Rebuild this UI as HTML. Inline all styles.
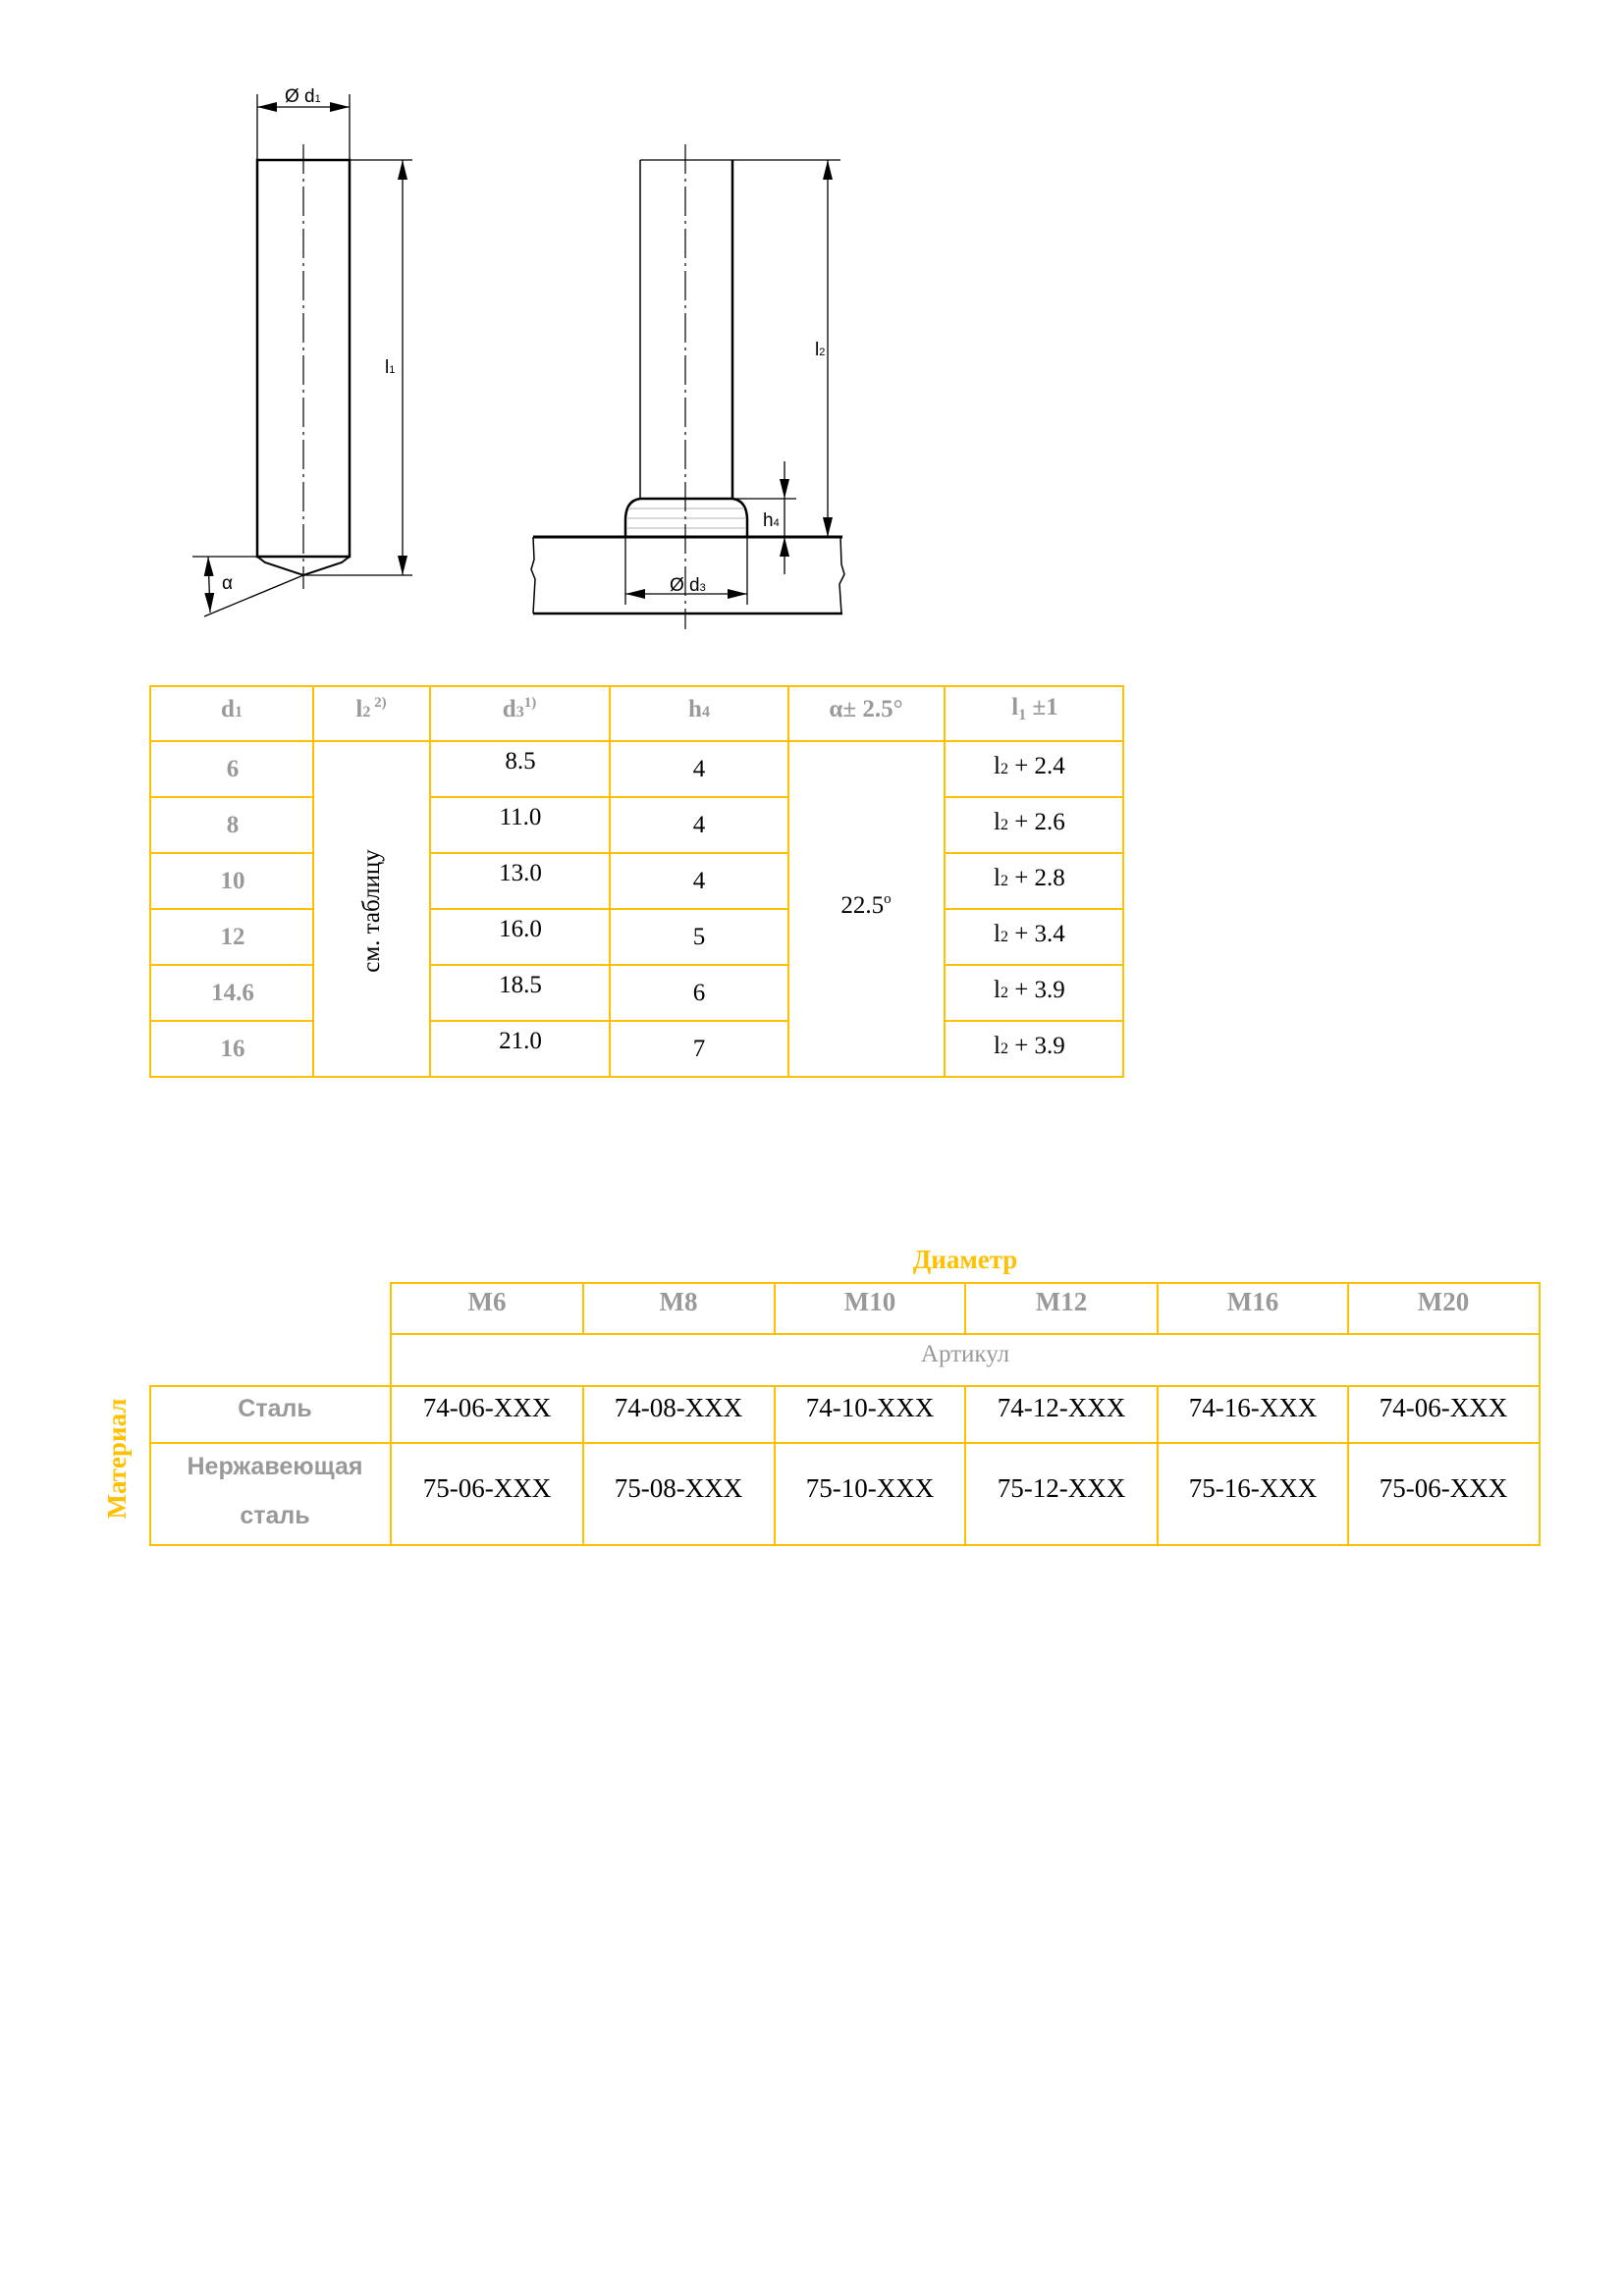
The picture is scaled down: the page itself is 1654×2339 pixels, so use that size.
<!DOCTYPE html>
<html><head><meta charset="utf-8"><style>
html,body{margin:0;padding:0;background:#fff;}
svg{display:block;}
.s{font-family:"Liberation Serif",serif;}
.a{font-family:"Liberation Sans",sans-serif;}
</style></head><body>
<svg width="1654" height="2339" viewBox="0 0 1654 2339" xmlns="http://www.w3.org/2000/svg">
<defs>
<marker id="ar" viewBox="0 0 20 10" refX="20" refY="5" markerWidth="20" markerHeight="10" markerUnits="userSpaceOnUse" orient="auto-start-reverse"><path d="M0,0 L20,5 L0,10 z" fill="#000"/></marker>
</defs>
<g stroke="#000" fill="none" stroke-width="2">
<rect x="262" y="163" width="94" height="404" stroke-width="2.5"/>
<path d="M262,567 L270,573 L309,586 L348,573 L356,567" />
<line x1="309" y1="147" x2="309" y2="600" stroke-width="1.2" stroke-dasharray="30,5,3,5"/>
<line x1="262" y1="96" x2="262" y2="163" stroke-width="1.3"/>
<line x1="356" y1="96" x2="356" y2="163" stroke-width="1.3"/>
<line x1="262" y1="109" x2="356" y2="109" stroke-width="1.3" marker-start="url(#ar)" marker-end="url(#ar)"/>
<line x1="356" y1="163" x2="420" y2="163" stroke-width="1.3"/>
<line x1="309" y1="586" x2="420" y2="586" stroke-width="1.3"/>
<line x1="410" y1="163" x2="410" y2="586" stroke-width="1.3" marker-start="url(#ar)" marker-end="url(#ar)"/>
<line x1="196" y1="567" x2="262" y2="567" stroke-width="1.3"/>
<line x1="309" y1="586" x2="208" y2="628" stroke-width="1.3"/>
<line x1="212" y1="567" x2="214" y2="624" stroke-width="1.3" marker-start="url(#ar)" marker-end="url(#ar)"/>
<line x1="652" y1="163" x2="652" y2="508" stroke-width="1.5"/>
<line x1="746" y1="163" x2="746" y2="508" stroke-width="2.5"/>
<line x1="652" y1="163" x2="856" y2="163" stroke-width="1.3"/>
<path d="M652,508 L746,508 Q761,510 761,530 L761,547 M652,508 Q637,510 637,530 L637,547" stroke-width="2.5"/>
<g stroke="#ccc" stroke-width="1.5"><line x1="640" y1="518" x2="758" y2="518"/><line x1="638" y1="528" x2="760" y2="528"/><line x1="638" y1="538" x2="760" y2="538"/></g>
<line x1="543" y1="547" x2="858" y2="547" stroke-width="3"/>
<line x1="543" y1="625" x2="858" y2="625" stroke-width="2.5"/>
<path d="M543,547 L544,570 L541,580 L545,590 L543,625" stroke-width="1.5"/>
<path d="M856,547 L857,575 L860,585 L855,595 L857,625" stroke-width="1.5"/>
<line x1="698" y1="147" x2="698" y2="641" stroke-width="1.2" stroke-dasharray="30,5,3,5"/>
<line x1="843" y1="163" x2="843" y2="547" stroke-width="1.3" marker-start="url(#ar)" marker-end="url(#ar)"/>
<line x1="746" y1="508" x2="811" y2="508" stroke-width="1.3"/>
<line x1="799" y1="470" x2="799" y2="508" stroke-width="1.3" marker-end="url(#ar)"/>
<line x1="799" y1="585" x2="799" y2="547" stroke-width="1.3" marker-end="url(#ar)"/>
<line x1="799" y1="508" x2="799" y2="547" stroke-width="1.3"/>
<line x1="637" y1="547" x2="637" y2="616" stroke-width="1.3"/>
<line x1="761" y1="547" x2="761" y2="616" stroke-width="1.3"/>
<line x1="637" y1="605" x2="761" y2="605" stroke-width="1.3" marker-start="url(#ar)" marker-end="url(#ar)"/>
</g>
<g class="a" fill="#000" font-size="19">
<text x="290" y="104">Ø d<tspan font-size="11">1</tspan></text>
<text x="392" y="380">l<tspan font-size="11">1</tspan></text>
<text x="226" y="600">α</text>
<text x="830" y="362">l<tspan font-size="11">2</tspan></text>
<text x="777" y="536">h<tspan font-size="11">4</tspan></text>
<text x="682" y="602">Ø d<tspan font-size="11">3</tspan></text>
</g>
<!-- table 1 -->
<g stroke="#FFC000" stroke-width="2" fill="none">
<rect x="153" y="699" width="991" height="398"/>
<line x1="153" y1="755" x2="1144" y2="755"/>
<line x1="319" y1="699" x2="319" y2="1097"/>
<line x1="438" y1="699" x2="438" y2="1097"/>
<line x1="621" y1="699" x2="621" y2="1097"/>
<line x1="803" y1="699" x2="803" y2="1097"/>
<line x1="962" y1="699" x2="962" y2="1097"/>
<line x1="153" y1="812" x2="319" y2="812"/><line x1="438" y1="812" x2="803" y2="812"/><line x1="962" y1="812" x2="1144" y2="812"/>
<line x1="153" y1="869" x2="319" y2="869"/><line x1="438" y1="869" x2="803" y2="869"/><line x1="962" y1="869" x2="1144" y2="869"/>
<line x1="153" y1="926" x2="319" y2="926"/><line x1="438" y1="926" x2="803" y2="926"/><line x1="962" y1="926" x2="1144" y2="926"/>
<line x1="153" y1="983" x2="319" y2="983"/><line x1="438" y1="983" x2="803" y2="983"/><line x1="962" y1="983" x2="1144" y2="983"/>
<line x1="153" y1="1040" x2="319" y2="1040"/><line x1="438" y1="1040" x2="803" y2="1040"/><line x1="962" y1="1040" x2="1144" y2="1040"/>
</g>
<g class="s" font-size="25" text-anchor="middle">
<g fill="#999" font-weight="bold">
<text x="236" y="730">d<tspan font-size="16">1</tspan></text>
<text x="378" y="730">l<tspan font-size="16">2</tspan><tspan font-size="15" dy="-10"> 2)</tspan></text>
<text x="529" y="730">d<tspan font-size="16">3</tspan><tspan font-size="15" dy="-10">1)</tspan></text>
<text x="712" y="730">h<tspan font-size="16">4</tspan></text>
<text x="882" y="730">α± 2.5°</text>
<text x="1054" y="728">l<tspan font-size="16" dy="5">1</tspan><tspan dy="-5"> ±1</tspan></text>
<text x="237" y="791">6</text><text x="237" y="848">8</text><text x="237" y="905">10</text>
<text x="237" y="962">12</text><text x="237" y="1019">14.6</text><text x="237" y="1076">16</text>
</g>
<g fill="#000">
<text x="530" y="783">8.5</text><text x="530" y="840">11.0</text><text x="530" y="897">13.0</text>
<text x="530" y="954">16.0</text><text x="530" y="1011">18.5</text><text x="530" y="1068">21.0</text>
<text x="712" y="791">4</text><text x="712" y="848">4</text><text x="712" y="905">4</text>
<text x="712" y="962">5</text><text x="712" y="1019">6</text><text x="712" y="1076">7</text>
<text x="882" y="930">22.5<tspan font-size="15" dy="-10">o</tspan></text>
<g text-anchor="start">
<text x="1012" y="788">l<tspan font-size="16">2</tspan> + 2.4</text>
<text x="1012" y="845">l<tspan font-size="16">2</tspan> + 2.6</text>
<text x="1012" y="902">l<tspan font-size="16">2</tspan> + 2.8</text>
<text x="1012" y="959">l<tspan font-size="16">2</tspan> + 3.4</text>
<text x="1012" y="1016">l<tspan font-size="16">2</tspan> + 3.9</text>
<text x="1012" y="1073">l<tspan font-size="16">2</tspan> + 3.9</text>
</g>
<text transform="translate(386,928) rotate(-90)" font-size="25">см. таблицу</text>
</g>
</g>
<!-- table 2 -->
<g stroke="#FFC000" stroke-width="2" fill="none">
<rect x="398" y="1307" width="1170" height="267"/>
<rect x="153" y="1412" width="245" height="162"/>
<line x1="398" y1="1359" x2="1568" y2="1359"/>
<line x1="153" y1="1412" x2="1568" y2="1412"/>
<line x1="153" y1="1470" x2="1568" y2="1470"/>
<line x1="594" y1="1307" x2="594" y2="1359"/><line x1="789" y1="1307" x2="789" y2="1359"/><line x1="983" y1="1307" x2="983" y2="1359"/><line x1="1179" y1="1307" x2="1179" y2="1359"/><line x1="1373" y1="1307" x2="1373" y2="1359"/>
<line x1="594" y1="1412" x2="594" y2="1574"/><line x1="789" y1="1412" x2="789" y2="1574"/><line x1="983" y1="1412" x2="983" y2="1574"/><line x1="1179" y1="1412" x2="1179" y2="1574"/><line x1="1373" y1="1412" x2="1373" y2="1574"/>
</g>
<g class="s" text-anchor="middle" font-size="27">
<text x="983" y="1292" fill="#FFC000" font-weight="bold">Диаметр</text>
<text transform="translate(128,1486) rotate(-90)" fill="#FFC000" font-weight="bold">Материал</text>
<g fill="#999" font-weight="bold">
<text x="496" y="1335">M6</text><text x="691" y="1335">M8</text><text x="886" y="1335">M10</text>
<text x="1081" y="1335">M12</text><text x="1276" y="1335">M16</text><text x="1470" y="1335">M20</text>
</g>
<text x="983" y="1387" fill="#999" font-size="25">Артикул</text>
<g fill="#000">
<text x="496" y="1443">74-06-XXX</text><text x="691" y="1443">74-08-XXX</text><text x="886" y="1443">74-10-XXX</text>
<text x="1081" y="1443">74-12-XXX</text><text x="1276" y="1443">74-16-XXX</text><text x="1470" y="1443">74-06-XXX</text>
<text x="496" y="1525">75-06-XXX</text><text x="691" y="1525">75-08-XXX</text><text x="886" y="1525">75-10-XXX</text>
<text x="1081" y="1525">75-12-XXX</text><text x="1276" y="1525">75-16-XXX</text><text x="1470" y="1525">75-06-XXX</text>
</g>
</g>
<g class="a" text-anchor="middle" font-size="25" font-weight="bold" fill="#999">
<text x="280" y="1443">Сталь</text>
<text x="280" y="1502">Нержавеющая</text>
<text x="280" y="1552">сталь</text>
</g>
</svg>
</body></html>
